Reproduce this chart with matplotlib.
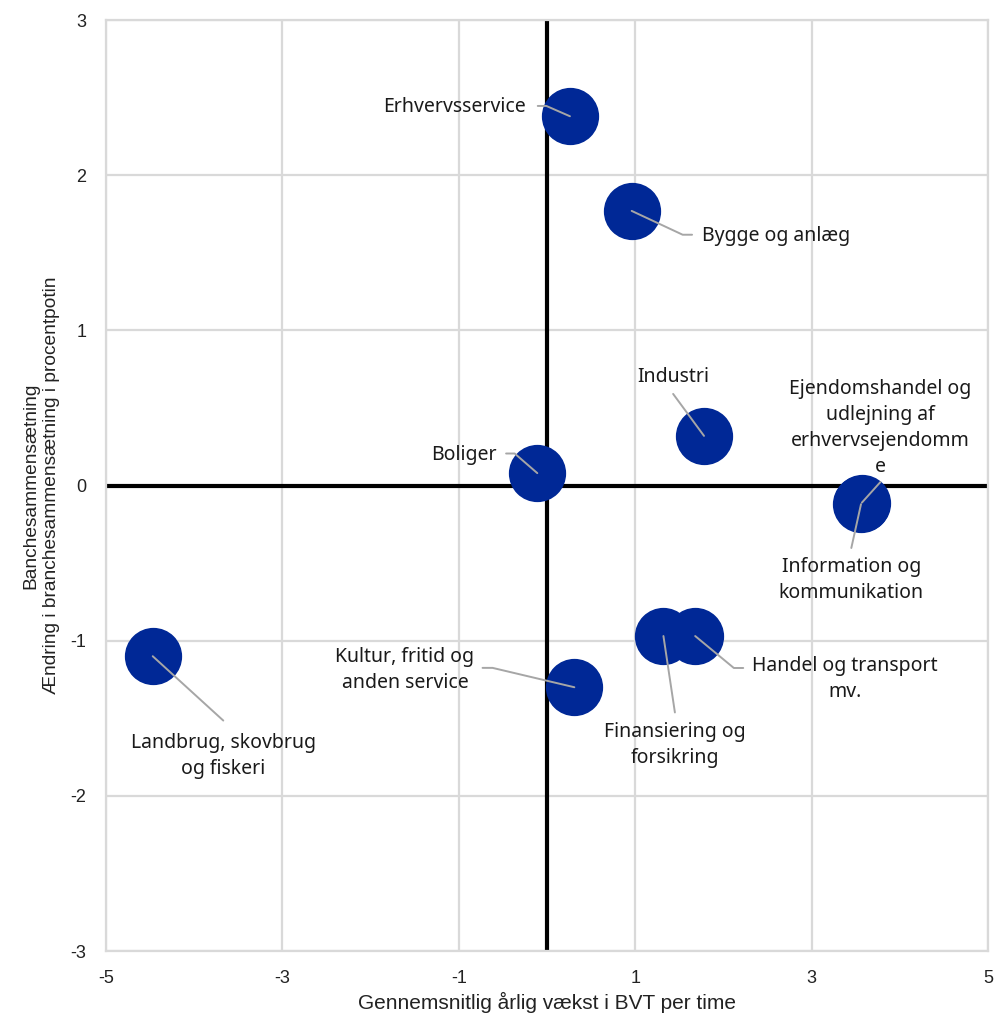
import matplotlib.pyplot as plt

plt.rcParams["axes.unicode_minus"] = False

# data
sectors = ["Erhvervsservice", "Bygge og anlæg", "Industri", "Boliger",
           "Ejendomshandel og\nudlejning af\nerhvervsejendomm\ne",
           "Information og\nkommunikation", "Handel og transport\nmv.",
           "Finansiering og\nforsikring", "Kultur, fritid og\nanden service",
           "Landbrug, skovbrug\nog fiskeri"]
growth = [0.26, 0.96, 1.78, -0.11, 3.57, 3.56, 1.68, 1.32, 0.31, -4.47]
change = [2.38, 1.77, 0.32, 0.08, -0.11, -0.12, -0.97, -0.97, -1.30, -1.10]

# label placement (data coords), leader start relative to the text box, arm
label_xy = [(-1.05, 2.44), (2.60, 1.61), (1.43, 0.70), (-0.94, 0.20),
            (3.78, 0.37), (3.45, -0.61), (3.38, -1.25), (1.45, -1.67),
            (-1.61, -1.19), (-3.67, -1.74)]
relpos = [(1.084, 0.55), (-0.069, 0.55), (0.5, -0.35), (1.14, 0.55),
          (0.5, -0.05), (0.5, 1.2), (-0.049, 0.75), (0.5, 1.2),
          (1.058, 0.55), (0.5, 1.26)]
arms = [(0, 8.6), (180, 9.4), (0, 0), (0, 8.6), (0, 0), (0, 0), (180, 9.4),
        (0, 0), (0, 10), (0, 0)]

fig = plt.figure(figsize=(9.95, 10.18), dpi=100)
ax = fig.add_axes([0.1065, 0.0658, 0.8865, 0.9145])

ax.set_xlim(-5, 5)
ax.set_ylim(-3, 3)
ax.set_xticks([-5, -3, -1, 1, 3, 5])
ax.set_yticks([-3, -2, -1, 0, 1, 2, 3])
ax.grid(True, color="#d9d9d9", linewidth=1.6, zorder=0)
ax.set_axisbelow(True)
for s in ax.spines.values():
    s.set_color("#d9d9d9")
    s.set_linewidth(1.6)
ax.tick_params(length=0, pad=14, labelsize=13)
for t in ax.get_xticklabels() + ax.get_yticklabels():
    t.set_fontfamily("Liberation Sans")
    t.set_color("#222222")

ax.axhline(0, color="black", linewidth=3, zorder=2)
ax.axvline(0, color="black", linewidth=3, zorder=2)

ax.scatter(growth, change, s=1700, color="#002896", zorder=3, linewidths=0)

for name, x, y, (lx, ly), rp, (ang, arm) in zip(sectors, growth, change,
                                                 label_xy, relpos, arms):
    ax.annotate(name, xy=(x, y), xytext=(lx, ly), ha="center", va="center",
                fontsize=14, family="Noto Sans", color="#1a1a1a",
                linespacing=1.4, zorder=5,
                arrowprops=dict(arrowstyle="-", color="#a6a6a6", lw=1.4,
                                shrinkA=0, shrinkB=0, relpos=rp,
                                connectionstyle=f"arc,angleA={ang},armA={arm},angleB=0,armB=0,rad=0"))

ax.set_xlabel("Gennemsnitlig årlig vækst i BVT per time", fontsize=15,
              family="Liberation Sans", color="#222222", labelpad=3)
ax.set_ylabel("Banchesammensætning\nÆndring i branchesammensætning i procentpotin",
              fontsize=13.8, family="Liberation Sans", color="#222222",
              labelpad=8, linespacing=1.25)

fig.savefig("out.png", dpi=100)
